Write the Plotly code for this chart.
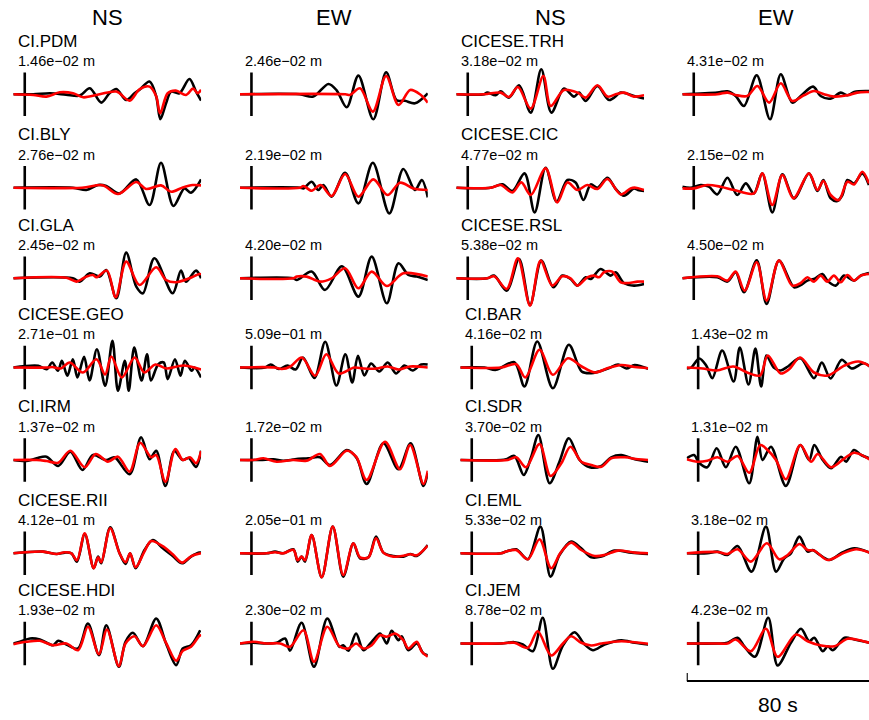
import plotly.graph_objects as go

# ---------------- data ----------------
COLUMN_TITLES = ["NS", "EW", "NS", "EW"]
LEFT_STATIONS = ["CI.PDM", "CI.BLY", "CI.GLA", "CICESE.GEO", "CI.IRM", "CICESE.RII", "CICESE.HDI"]
RIGHT_STATIONS = ["CICESE.TRH", "CICESE.CIC", "CICESE.RSL", "CI.BAR", "CI.SDR", "CI.EML", "CI.JEM"]
AMP_COL1 = [1.46e-02, 2.76e-02, 2.45e-02, 2.71e-01, 1.37e-02, 4.12e-01, 1.93e-02]
AMP_COL2 = [2.46e-02, 2.19e-02, 4.20e-02, 5.09e-01, 1.72e-02, 2.05e-01, 2.30e-02]
AMP_COL3 = [3.18e-02, 4.77e-02, 5.38e-02, 4.16e-02, 3.70e-02, 5.33e-02, 8.78e-02]
AMP_COL4 = [4.31e-02, 2.15e-02, 4.50e-02, 1.43e-02, 1.31e-02, 3.18e-02, 4.23e-02]
ORIGIN_TIME = 5.0      # s, vertical mark
SCALE_SECONDS = 80     # scale bar length
TRACE_SECONDS = 82.0

# (time s, normalised displacement) key samples; OBS = black (data), SYN = red (synthetic)
PDM_NS_OBS = [(0,0),(8.7,0),(16,1),(23,-0.3),(29,-1.3),(33.4,6),(38.4,-8.3),(42,1),(45,5.3),(49.3,-5.7),(52.9,1),(55,4.3),(59.5,12.7),(62.4,-2),(64.2,-25),(66.7,-9),(68.9,2.7),(72.5,1),(76.9,15.3),(79.8,2.7),(82,-6.3)]
PDM_NS_SYN = [(0,0),(8.7,-0.7),(14.5,-2.3),(20.3,2),(26.1,1),(30.5,-3),(37.7,0),(45,2.7),(50.8,-6.3),(55.1,5),(59.5,7.7),(62.4,-2),(64.1,-19),(67.4,1),(71,3.7),(75.4,-0.7),(78.5,5.7),(80.5,1),(82,4.5)]
PDM_EW_OBS = [(0,0),(26,0),(32,-2.3),(38.6,10.3),(42.2,4),(46.6,-13),(51.7,18.7),(58.2,-25),(63.8,22),(68.4,-6),(72,-6.5),(76.4,-9),(82,1)]
PDM_EW_SYN = [(0,0),(46,0),(48,-0.7),(52.4,6),(58,-17.3),(63.8,18.3),(69.2,-10.7),(74.3,4.3),(78.6,0),(82,-8.3)]
BLY_NS_OBS = [(0,0),(26,0),(31.9,-2.3),(37,2.7),(40.6,1.7),(46.4,-5.7),(53.7,8.3),(59.5,-17.3),(64.5,25),(69.9,-18.3),(74.7,-0.7),(77.6,-5),(82,8.3)]
BLY_NS_SYN = [(0,0),(30,0),(39,2.5),(45.7,-6.3),(53.7,5.7),(58,-1.3),(64.5,2.3),(68.9,-4),(74,0.3),(78.3,2.7),(82,2.3)]
BLY_EW_OBS = [(0,0),(26.2,0),(27.7,-0.7),(31.3,6),(34.2,-2.3),(36.4,2.7),(40,-9),(45.9,15),(51.7,-15.7),(58,25),(65.2,-25.7),(71.3,18.7),(76.4,-2.3),(79.4,7.7),(82,-9.7)]
BLY_EW_SYN = [(0,0),(26.2,0),(27.7,1.7),(31.3,-3),(35.2,2.7),(40,-8.3),(45.9,13.7),(51.7,-9),(58.2,8.3),(64.4,-7.3),(69.9,5),(75.7,-0.7),(82,-2.3)]
GLA_NS_OBS = [(0,0),(26,0),(29,-3.3),(33.4,5),(37.7,1.7),(40.6,8.3),(45,-20),(49.3,25.7),(53.7,-8.3),(56.6,-15),(61.6,20),(69.6,-15),(73.2,7.7),(75.4,-3.3),(79.8,7.7),(82,0)]
GLA_NS_SYN = [(0,0),(23.2,0.5),(27.6,-3.3),(31.9,1.7),(34.8,3.3),(36.3,1),(40.9,7.7),(44.7,-19),(49.3,16.7),(55.1,-6.7),(62.4,11),(66.7,-1.7),(71,-4),(76.9,0),(81.2,4.3),(82,4)]
GLA_EW_OBS = [(0,0),(23.3,0),(24.8,-1.7),(31.3,6.7),(37.1,-11.7),(44.5,12),(51.7,-18.3),(57.5,21.7),(64.1,-25),(69.2,15),(73.5,3.3),(77.2,1.7),(82,-1.7)]
GLA_EW_SYN = [(0,0),(23.3,0),(24.8,1.7),(29.1,1.7),(34.9,-3.3),(40,0),(45.9,10),(51.7,-10),(57.5,6.7),(64.1,-7.7),(71.3,5),(82,1.7)]
GEO_NS_OBS = [(0,0),(10.9,1.7),(14.6,-1.7),(17,5),(19.5,-3.3),(21.2,6.7),(23.6,-8.3),(26,8.3),(28,-10),(30.9,10.7),(33.3,-13),(36.5,18.3),(40.1,-18.3),(43.3,26.7),(45.7,-23.3),(48.7,6.7),(50.4,-23.3),(52.8,20),(56,-13),(58.4,13.3),(60.1,-13),(63.3,3.3),(65.7,5),(67.4,-11.7),(70.6,8.3),(73,-8.3),(74.9,6.7),(77.9,-3.3),(79.1,0),(82,-10)]
GEO_NS_SYN = [(0,0),(15,0),(17,0.5),(20.7,-1),(24.6,5),(30.4,-5),(36.3,8.3),(40.1,-7),(42.8,11),(47.4,-10),(53,10),(57.2,-5),(62,3),(66.9,-1),(74.2,2),(82,-2)]
GEO_EW_OBS = [(0,0),(10.9,0),(13.4,3),(17,-1.5),(20.7,2),(24.3,-2),(27.5,10),(32.5,-10.5),(37.2,25.7),(42.1,-18),(46,13.3),(49,-15),(51.5,11.7),(54.3,-8),(57.2,4),(60.8,-4),(64.5,5),(68.1,-6),(71.8,2),(75.4,-3),(79.1,3),(82,3)]
GEO_EW_SYN = [(0,0),(15,0),(18.2,-1.5),(22,1),(27,10),(32.8,-8.3),(37.7,13.3),(43.1,-6),(49.9,0),(54,-1),(59.6,-1),(64.5,1),(69.3,-2),(74.2,1),(82,0)]
IRM_NS_OBS = [(0,0),(5.8,-1),(10.2,1.7),(14.5,3.3),(19.6,-6),(24.9,8.3),(30.2,-10),(34.8,5),(40.6,0),(44.2,2.7),(50.8,-14.3),(55.8,22.7),(59.5,0.7),(62.4,9.3),(66.4,-26),(70.3,9),(74,0),(76.6,2),(79.8,-7),(82,9.3)]
IRM_NS_SYN = [(0,0),(10.2,0),(14.5,-1),(19.6,-2.7),(24.9,9.3),(31.2,-7.3),(36,6),(41.3,-1.7),(45.7,3.3),(50.8,-11.7),(55.4,17.3),(60.2,2.7),(62.4,5),(66.4,-21.7),(70.8,11),(74,0),(77.1,2.7),(79.8,-3.3),(82,9)]
IRM_EW_OBS = [(0,0),(8.7,0),(14.6,0.7),(18.9,-0.7),(24,0.7),(29.8,1.7),(34.9,2.7),(39.3,-5),(46.6,10),(51,1.7),(55.3,-24),(62.6,16.7),(69.2,-9.3),(74.5,16.7),(80.1,-26),(82,-13.3)]
IRM_EW_SYN = [(0,0),(5.8,0),(10.2,1.7),(16,-1.7),(23.3,0),(29.1,-0.7),(34.9,6),(39.3,-6),(46.6,9.3),(50.7,3.3),(55.3,-20),(63.3,18.3),(69.9,-9.3),(74.3,15),(80.1,-24),(82,-10.7)]
RII_NS_OBS = [(0,0),(13,1.7),(18.9,-0.7),(22.5,0.7),(25.4,0),(27.8,-8.3),(31.2,19.3),(35.1,-15),(37,-3.3),(38.4,-10),(42.3,26),(46.4,0),(49,-10.7),(51,0),(53.4,-15),(57.3,3.3),(60.9,13.3),(65.3,5),(69.6,-2.7),(73.7,-10),(77.6,-3.3),(81.2,0.7),(82,0.7)]
RII_NS_SYN = [(0,0),(13,1.7),(18.9,-0.7),(22.5,1),(25.4,0),(27.8,-7),(31.2,20),(35.1,-15),(37,-4),(38.4,-9),(42.3,25),(46.4,0),(49,-9),(51,0),(53.4,-14),(57.3,2),(60.2,12.3),(66,6),(69.6,-1),(73.7,-9.3),(77.6,-3),(82,0)]
RII_EW_OBS = [(0,0),(11.6,0),(15.3,1.7),(18.9,0),(23.3,4),(25.2,-8.3),(26.9,-3.3),(28.4,-8.3),(31.3,18.3),(35.7,-24),(40.5,26.7),(45.1,-23.3),(49.5,10),(52.4,-5),(56.1,-4),(59.4,16.7),(62.6,0.7),(67,-2.7),(71.3,-3.3),(74.3,-0.7),(77.2,-2.7),(82,8.3)]
RII_EW_SYN = [(0,0),(11.6,0),(15.3,1),(18.9,0),(23.3,3.5),(25.2,-7),(26.9,-3.3),(28.4,-7),(31.3,18.3),(35.7,-24),(40.5,26.7),(45.1,-21.7),(49.5,10),(52.4,-4),(56.1,-4),(59.4,15),(62.6,0.7),(67,-3.3),(71.3,-2.5),(74.3,-1),(77.2,-2),(82,7.7)]
HDI_NS_OBS = [(0,0),(2.9,1.7),(7.3,5),(11.6,4),(17.4,-1.7),(19.6,2.7),(23.2,-1),(28.3,-5),(32.6,20),(37.4,-11.7),(40.6,18.3),(46.1,-23.3),(49,1.7),(52.2,10.7),(56.6,-2.7),(62.4,25),(66.7,0),(71.1,-21.7),(74,-5),(77.6,-1.7),(81.6,13.3)]
HDI_NS_SYN = [(0,-0.7),(5.8,1.7),(11.6,2.7),(17.4,-1.7),(23.2,0),(28.3,-6.7),(32.6,16.7),(37.4,-10.7),(40.9,14),(46.1,-22.7),(49,0),(52.9,7.3),(56.6,-2.7),(62.4,18.3),(66.7,0.7),(71.1,-17.3),(74,-7.3),(77.6,-3.3),(81.6,8.3),(82,7)]
HDI_EW_OBS = [(0,0),(5.8,0.7),(11.6,0),(16,0.7),(19.7,5),(21.8,-7.3),(26.9,20.7),(32.3,-23.3),(38.1,25),(43.4,-3.3),(45.1,-1.7),(47.3,-7.3),(50.7,10),(53.9,-6.7),(57.5,1.7),(61.2,10),(64.1,0),(66.2,12.7),(69.2,3.3),(70.6,7.3),(73.5,-6.7),(77.2,0),(80.1,-10),(82,-11.7)]
HDI_EW_SYN = [(0,0),(5.8,1.7),(11.6,0),(17.5,0),(21.8,-3.3),(27.7,13.3),(32.3,-18.3),(38.1,16.7),(43.4,-2.7),(47.3,-5),(50.7,0),(53.9,-5),(57.5,-1.7),(61.2,8.3),(64.1,6.7),(67.7,10),(71.3,3.3),(73.5,-5),(77.2,1.7),(79.4,-8.3),(82,-13.3)]
TRH_NS_OBS = [(0,0),(12.1,0),(13.5,1.7),(17.2,-1),(19.4,3),(23,-3.3),(27.4,9),(32.5,-18.3),(37.1,25),(41.5,-18.3),(47,5.7),(51.4,-2.3),(53.6,1.7),(56.5,-6.7),(61.6,8.3),(66.7,-5.7),(71.8,1.7),(74,1),(77.6,-1.7),(82,-4.3)]
TRH_NS_SYN = [(0,0),(12.1,0),(19.4,1.7),(23,-2.7),(26.9,7.3),(32.5,-14.3),(38,18.3),(41.2,-11.7),(47,4.3),(52.9,1.7),(56.5,-3.3),(61.6,9),(66,-2.3),(69.6,0),(73.2,1.7),(77.6,-2.3),(82,-1)]
TRH_EW_OBS = [(0,0),(15.3,1.7),(19.7,3),(23.3,-1.7),(26.9,-11.7),(32.5,19),(38.3,-25),(43,20),(48,-8.3),(51.7,-1.7),(57.1,7.7),(60.4,-1.7),(64.8,-4.3),(69.2,1.7),(72.1,-1),(75,2.3),(80.8,3.3),(82,3)]
TRH_EW_SYN = [(0,0),(15.3,0),(19.7,1.7),(23.3,-0.7),(28.4,-1.7),(32.8,8.3),(37.9,-8.3),(43,11),(48,-6.7),(53.1,-1),(57.5,3.3),(61.9,0),(66.2,-2.3),(72.1,-1),(76.4,1.7),(80.8,2.3),(82,2.3)]
CIC_NS_OBS = [(0,0),(15,0),(20.1,3.3),(24.5,-3.3),(29.8,14.3),(34.2,-24.7),(39,20),(43.8,-14),(48.5,7.7),(52.1,5.3),(55.5,-12.3),(58.7,3.3),(61.6,0),(66,10),(69.6,-1.3),(73.2,-8),(77.6,-0.7),(79.3,-2.3),(82,-3.3)]
CIC_NS_SYN = [(0,0),(15,0),(19.4,2.7),(24.5,-4.7),(28.4,5.3),(32.5,-7.3),(39,19.3),(44.1,-14.7),(48.5,5.3),(52.9,-2.3),(57.2,2.7),(61.6,-1.3),(66,8.7),(71.8,-6.7),(76.1,-0.7),(78.3,0),(82,-2.3)]
CIC_EW_OBS = [(0,1),(3.6,0),(8,2.7),(11.6,1),(15.3,-6.7),(19.7,10),(24,-7.3),(27.7,4.3),(31.3,-5.7),(34.9,14.3),(39.3,-24.7),(43.7,13.3),(48.8,-10.7),(55.3,14.3),(59,-3.3),(61.6,7.7),(64.8,-10.7),(67.7,-13.3),(69.9,-7.3),(72.1,7.7),(75,4.3),(78.6,14.3),(81.5,2.7)]
CIC_EW_SYN = [(0,-0.7),(5.1,-0.7),(10.9,2.7),(16.7,1),(22.6,-2.3),(31.3,-5.7),(34.9,14.3),(39.3,-17.3),(43.7,12.7),(48.5,-10.7),(55.3,14.3),(59,-2.3),(61.6,6.7),(64.8,-7.3),(68.4,-12.3),(72.1,6),(75,3.3),(78.6,16),(81.5,4.3)]
RSL_NS_OBS = [(0,0),(13.5,0),(16.5,2.7),(22,-12.3),(27.4,19.3),(32.2,-26.7),(37.1,17.7),(42.4,-9),(46.3,2.7),(49.9,-0.7),(52.9,-7.3),(56.5,1),(58.7,-0.7),(63,9.3),(67.4,2.7),(69.6,6),(73.2,-4.7),(77.6,-7.3),(82,-5.7)]
RSL_NS_SYN = [(0,0),(13.5,0),(16.5,2),(22,-10.7),(26.9,20),(32.2,-27.3),(36.8,17.7),(41.9,-7.3),(46.3,2),(49.9,0),(52.9,-7.3),(57.2,1),(60.1,2.7),(62.3,1),(64.5,6),(68.1,6.7),(71.8,-4),(75.4,-4.7),(79.1,-3.3),(82,-3.3)]
RSL_EW_OBS = [(0,0),(15.3,1),(19.7,-3.3),(23.3,6),(26.9,-14),(32.5,18),(36.8,-25.7),(42.2,17.7),(48.8,-9),(51.7,-6.7),(54.6,-2.3),(57.5,-0.7),(61.2,4.3),(63.3,-2.3),(67,-7.3),(70.6,2.7),(75,-2.3),(77.9,2.7),(81.5,5.3)]
RSL_EW_SYN = [(0,0),(15.3,2),(19.7,-2.3),(23.3,6.7),(27.2,-12.3),(32.5,16),(36.8,-22.3),(42.2,17.7),(48,-7.3),(51.7,-4.7),(54.6,1),(57.5,-3.3),(60.4,2.7),(63.3,-3.3),(66.2,2.7),(69.2,-4),(72.1,3.3),(75,-2.3),(77.9,2.7),(81.5,4.3)]
BAR_NS_OBS = [(0,0),(10.5,0),(15.6,-2.3),(23.6,5.3),(28,-19),(33.6,26),(40.4,-20.7),(47.4,22.7),(53,-4),(57.2,-5.7),(64.5,-1),(68.9,3),(72.5,-1),(76.1,2.5),(82,-1.3)]
BAR_NS_SYN = [(0,0),(17.8,0),(24.4,3.3),(28.4,-10),(34.6,17.7),(40.4,-7.3),(47,9.3),(53,1),(58.7,-5),(64.5,-0.5),(70.3,2.5),(76.1,0.5),(82,-0.7)]
BAR_EW_OBS = [(0,-1),(2,0),(5.5,9),(8.5,2),(11.2,-10.7),(15.5,17),(20.5,-14),(23.2,20),(27,-17),(30,19),(32.5,-19),(34.8,12),(38,0),(41,-3),(44.2,1),(49.7,9.3),(55.6,-10.7),(59,5),(62.8,-11),(67.7,7.7),(72,-1),(77.4,4.3),(81,-1)]
BAR_EW_SYN = [(0,0),(7,-1),(13.1,-3),(20.4,1),(26.4,-5),(32,-8),(35.4,12),(41,-6),(44.6,-2),(49.5,10),(55.6,-5),(61.6,-8),(68.9,2),(75,6),(81,0)]
SDR_NS_OBS = [(0,0),(17.8,0),(20,0.7),(23.6,4),(27.7,-15),(30.9,2.7),(34.1,25),(39,-23.3),(43.3,-1.7),(47.4,21.7),(52.1,0),(56.5,-7.3),(61.6,-6),(65.9,2.7),(70.3,5),(76.2,0.7),(82,-1.7)]
SDR_NS_SYN = [(0,0),(20.7,0),(24.4,2.7),(28.7,-7.3),(34.6,16),(39.4,-16),(44.1,-3.3),(48.1,13.3),(52.8,-1.7),(57.2,-5),(61.6,-6.7),(65.9,1.7),(71.8,2.7),(77.6,0.7),(82,0)]
SDR_EW_OBS = [(0,1.7),(3.2,5),(5.4,-2.7),(9,-7.3),(13.1,11.7),(17.1,-7.3),(21.4,13.3),(27.3,-23.3),(30.9,23.3),(33.1,0),(36.8,13.3),(43.3,-26),(49.6,15),(53.5,0),(55.7,15),(59.4,0),(63,-8.3),(67.4,3.3),(69.6,-1.7),(73,10),(76.2,5),(79.8,1.7)]
SDR_EW_SYN = [(0,0.7),(4.7,-1.7),(9,-0.7),(13.4,2.7),(17.8,-1.7),(22.2,4),(27.3,-12.7),(32.1,15),(35.3,10),(39,0),(43.3,-19.3),(49.6,15),(54.3,-1.7),(57.2,6),(63,-7.3),(68.9,1.7),(73.2,7.3),(79.8,0.7)]
EML_NS_OBS = [(0,0),(17.8,0),(20,1.7),(24.4,4),(29.5,-6),(35,26.7),(39.4,-23.3),(43.3,-1.7),(48.4,11.7),(52.8,5),(57.2,-4),(61.6,-3.3),(67.4,2.7),(74.7,0.7),(82,-0.7)]
EML_NS_SYN = [(0,0),(17.8,0),(20,1.7),(24.4,3.3),(29.5,-6),(34.6,14),(39.7,-15),(43.8,0.7),(48.4,10.7),(52.8,3.3),(58.7,-2.7),(63,-1.7),(68.9,2.7),(76.2,0.7),(82,0)]
EML_EW_OBS = [(0,0),(9,0),(13.4,1.7),(17.8,-1.7),(22.2,7.3),(28.3,-18.3),(34.6,26.7),(39,-18.3),(42.6,-5),(45.5,0),(49.2,16.7),(52.8,1.7),(55,3.3),(57.2,0),(62.3,-6.7),(67.4,0),(73.2,5),(79.8,0.7)]
EML_EW_SYN = [(0,0),(13.4,1.3),(17.8,-0.7),(22.2,4),(28,-8.3),(35,10),(40.4,-6),(44.1,-1.7),(49.2,9.3),(52.8,3.3),(55.7,2.7),(61.6,-6.7),(68.9,0.7),(74,4),(79.8,0.7)]
JEM_NS_OBS = [(0,0),(17.8,0),(23.6,1.3),(27.3,-1),(31.7,-7.7),(36,25.7),(40.4,-25.3),(44.8,-2),(49.9,11.3),(54.3,-1),(57.9,-6.7),(63,-1),(70.3,3.3),(76.2,0.7),(82,-1)]
JEM_NS_SYN = [(0,0),(17.8,0),(23.6,0.7),(29.5,-4.3),(33.8,12.3),(39.7,-12),(44.8,0),(48.4,7.3),(52.8,0.7),(57.2,-2),(61.6,0),(70.3,2.3),(82,-0.3)]
JEM_EW_OBS = [(0,0),(13.4,0),(17.8,0.7),(22.2,5.7),(25.1,-2.7),(29.8,-13.3),(35.6,25.7),(39.7,-22),(45.5,0.7),(49.9,14.7),(53.5,2.3),(55.7,5.7),(59.4,-7.7),(61.6,-2.7),(63.8,-6.7),(68.9,5.7),(73.2,4),(79.8,0.7)]
JEM_EW_SYN = [(0,0),(13.4,0),(17.8,0),(21.4,4),(28,-7.7),(34.6,14.7),(39.7,-13.3),(47.7,9),(52.8,2.3),(58.7,-2),(64.5,-2.7),(70.3,4.7),(75.4,3.3),(79.8,0.7)]

PANELS = [
    [(PDM_NS_OBS, PDM_NS_SYN), (PDM_EW_OBS, PDM_EW_SYN), (TRH_NS_OBS, TRH_NS_SYN), (TRH_EW_OBS, TRH_EW_SYN)],
    [(BLY_NS_OBS, BLY_NS_SYN), (BLY_EW_OBS, BLY_EW_SYN), (CIC_NS_OBS, CIC_NS_SYN), (CIC_EW_OBS, CIC_EW_SYN)],
    [(GLA_NS_OBS, GLA_NS_SYN), (GLA_EW_OBS, GLA_EW_SYN), (RSL_NS_OBS, RSL_NS_SYN), (RSL_EW_OBS, RSL_EW_SYN)],
    [(GEO_NS_OBS, GEO_NS_SYN), (GEO_EW_OBS, GEO_EW_SYN), (BAR_NS_OBS, BAR_NS_SYN), (BAR_EW_OBS, BAR_EW_SYN)],
    [(IRM_NS_OBS, IRM_NS_SYN), (IRM_EW_OBS, IRM_EW_SYN), (SDR_NS_OBS, SDR_NS_SYN), (SDR_EW_OBS, SDR_EW_SYN)],
    [(RII_NS_OBS, RII_NS_SYN), (RII_EW_OBS, RII_EW_SYN), (EML_NS_OBS, EML_NS_SYN), (EML_EW_OBS, EML_EW_SYN)],
    [(HDI_NS_OBS, HDI_NS_SYN), (HDI_EW_OBS, HDI_EW_SYN), (JEM_NS_OBS, JEM_NS_SYN), (JEM_EW_OBS, JEM_EW_SYN)],
]
AMPS = [AMP_COL1, AMP_COL2, AMP_COL3, AMP_COL4]

# ---------------- layout (pixels) ----------------
W, H = 869, 720
ROW_ZERO_PX = [94.3, 187.7, 278.3, 367.5, 460.0, 553.3, 643.5]
COL_START_TOP = [13.3, 240.0, 456.3, 682.3]
COL_START_BOTTOM = [13.3, 240.0, 460.3, 686.7]
TRACE_PX = 187.8
HALF_PX = 40.0
BAR_HALF = 21.7
FONT = "Liberation Sans, Arial, Helvetica, sans-serif"


def px_x(p):
    return p / W


def px_y(p):
    return 1 - p / H


def fmt_amp(a):
    return f"{a:.2e}".replace("-", "\u2212") + " m"


fig = go.Figure()
layout_axes = {}
annotations = []
shapes = []
k = 0
axis_of = {}
for r in range(7):
    starts = COL_START_TOP if r < 3 else COL_START_BOTTOM
    for c in range(4):
        k += 1
        s = starts[c]
        e = s + TRACE_PX
        x_end_px = min(e, W)
        xr = [0, TRACE_SECONDS * (x_end_px - s) / TRACE_PX]
        z = ROW_ZERO_PX[r]
        xa = dict(domain=[px_x(s), px_x(x_end_px)], range=xr, visible=False,
                  anchor=f"y{k}", fixedrange=True)
        ya = dict(domain=[px_y(z + HALF_PX), px_y(z - HALF_PX)], range=[-HALF_PX, HALF_PX],
                  visible=False, anchor=f"x{k}", fixedrange=True)
        layout_axes["xaxis" if k == 1 else f"xaxis{k}"] = xa
        layout_axes["yaxis" if k == 1 else f"yaxis{k}"] = ya
        axis_of[(r, c)] = k
        xs = "x" if k == 1 else f"x{k}"
        ys = "y" if k == 1 else f"y{k}"
        obs, syn = PANELS[r][c]
        fig.add_trace(go.Scatter(x=[ORIGIN_TIME, ORIGIN_TIME], y=[-BAR_HALF, BAR_HALF], mode="lines",
                                 line=dict(color="black", width=2.6), xaxis=xs, yaxis=ys,
                                 hoverinfo="skip", showlegend=False))
        fig.add_trace(go.Scatter(x=[p[0] for p in obs], y=[p[1] for p in obs], mode="lines",
                                 line=dict(color="black", width=2.6, shape="spline", smoothing=0.9),
                                 xaxis=xs, yaxis=ys, showlegend=False))
        fig.add_trace(go.Scatter(x=[p[0] for p in syn], y=[p[1] for p in syn], mode="lines",
                                 line=dict(color="#ff0000", width=2.6, shape="spline", smoothing=0.9),
                                 xaxis=xs, yaxis=ys, showlegend=False))
        # labels: station name sits directly above the peak amplitude text
        if c in (0, 2):
            name = LEFT_STATIONS[r] if c == 0 else RIGHT_STATIONS[r]
            annotations.append(dict(text=name, x=px_x(s + 3.5), y=px_y(z - 42.6), xref="paper", yref="paper",
                                    xanchor="left", yanchor="bottom", showarrow=False, borderpad=0,
                                    font=dict(family=FONT, size=17, color="black")))
        annotations.append(dict(text=fmt_amp(AMPS[c][r]), x=px_x(s + 3.5), y=px_y(z - 42.2), xref="paper",
                                yref="paper", xanchor="left", yanchor="top", showarrow=False, borderpad=0,
                                font=dict(family=FONT, size=14.5, color="black")))
        if r == 0:
            annotations.append(dict(text=COLUMN_TITLES[c], x=px_x(s + TRACE_PX / 2), y=px_y(17),
                                    xref="paper", yref="paper", xanchor="center", yanchor="middle",
                                    showarrow=False, font=dict(family=FONT, size=22, color="black")))

# scale bar under the last EW panel
kb = axis_of[(6, 3)]
xb = "x" if kb == 1 else f"x{kb}"
shapes.append(dict(type="line", xref=xb, yref="paper", x0=0, x1=SCALE_SECONDS, y0=px_y(681), y1=px_y(681),
                   line=dict(color="black", width=2.2)))
shapes.append(dict(type="line", xref=xb, yref="paper", x0=0, x1=0, y0=px_y(681), y1=px_y(673),
                   line=dict(color="black", width=2.2)))
annotations.append(dict(text=f"{SCALE_SECONDS} s", x=SCALE_SECONDS / 2, y=px_y(704), xref=xb, yref="paper",
                        xanchor="center", yanchor="middle", showarrow=False,
                        font=dict(family=FONT, size=21, color="black")))

fig.update_layout(width=W, height=H, margin=dict(l=0, r=0, t=0, b=0), paper_bgcolor="white",
                  plot_bgcolor="rgba(0,0,0,0)", showlegend=False, annotations=annotations, shapes=shapes,
                  **layout_axes)
fig.write_html("out.html")
